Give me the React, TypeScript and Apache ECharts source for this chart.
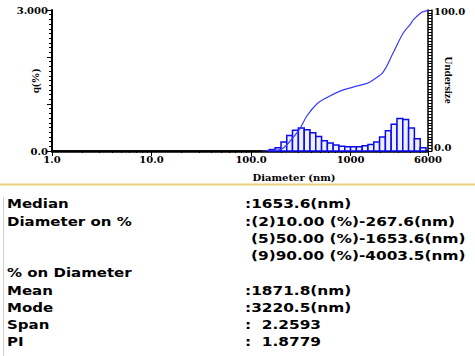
import React, { useEffect, useRef } from 'react';
import * as echarts from 'echarts';

// Histogram bins (log-spaced bin centres, nm) and q (%) values
const BIN_CENTERS_NM = [163, 187, 214, 244, 279, 320, 366, 418, 478, 547, 625, 715, 818, 935, 1070, 1223, 1399, 1600, 1830, 2093, 2393, 2737, 3131, 3581, 4095, 4683, 5356];
const Q_PERCENT = [0.03, 0.07, 0.19, 0.33, 0.44, 0.49, 0.45, 0.39, 0.31, 0.22, 0.17, 0.13, 0.10, 0.09, 0.09, 0.09, 0.11, 0.14, 0.19, 0.30, 0.43, 0.57, 0.69, 0.67, 0.49, 0.26, 0.07];

// Cumulative undersize curve
const CURVE_D_NM = [129, 174, 210, 268, 311, 365, 461, 580, 784, 1059, 1465, 1654, 2123, 2674, 3373, 4004, 4249, 5234, 5870, 6000];
const CURVE_UNDERSIZE = [0, 0.4, 2, 10, 16, 25, 33.5, 38, 42.5, 45.3, 48, 50, 56, 69.5, 83.5, 90, 92.8, 98.5, 99.6, 100];

// Axis ticks
const X_LABELS: Record<number, string> = { 1: '1.0', 10: '10.0', 100: '100.0', 1000: '1000', 6000: '6000' };
const X_MINOR_TICKS = [2, 3, 4, 5, 6, 7, 8, 9, 20, 30, 40, 50, 60, 70, 80, 90, 200, 300, 400, 500, 600, 700, 800, 900, 2000, 3000, 4000, 5000];
const Y_LEFT_LABELS: Record<number, string> = { 0: '0.0', 3: '3.000' };
const Y_RIGHT_TICKS = [0, 100];
const Y_RIGHT_LABELS = ['0.0', '100.0'];

// Result table
const TABLE_LABELS = ['Median', 'Diameter on %', '', '', '% on Diameter', 'Mean', 'Mode', 'Span', 'PI'];
const TABLE_VALUES = [':1653.6(nm)', ':(2)10.00 (%)-267.6(nm)', '(5)50.00 (%)-1653.6(nm)', '(9)90.00 (%)-4003.5(nm)', '', ':1871.8(nm)', ':3220.5(nm)', ':  2.2593', ':  1.8779'];

const SERIF = '"DejaVu Serif", serif';
const SANS = '"DejaVu Sans", sans-serif';

export default function App() {
  const ref = useRef<HTMLDivElement>(null);
  useEffect(() => {
    if (!ref.current) return;
    const chart = echarts.init(ref.current, undefined, { renderer: 'svg' });

    const bins = BIN_CENTERS_NM.map((c, i) => {
      const prev = i > 0 ? BIN_CENTERS_NM[i - 1] : (c * c) / BIN_CENTERS_NM[i + 1];
      const next = i < BIN_CENTERS_NM.length - 1 ? BIN_CENTERS_NM[i + 1] : (c * c) / BIN_CENTERS_NM[i - 1];
      return [c, Q_PERCENT[i], Math.sqrt(prev * c), Math.sqrt(c * next)];
    });

    const rowY0 = 204;
    const rowStep = 17.25;
    const tableText: any[] = [];
    TABLE_LABELS.forEach((t, i) => {
      if (t) tableText.push({ type: 'text', x: 7, y: rowY0 + i * rowStep, scaleX: 1.25, style: { text: t, font: `bold 12px ${SANS}`, fill: '#000', verticalAlign: 'middle' } });
    });
    TABLE_VALUES.forEach((t, i) => {
      if (t) tableText.push({ type: 'text', x: t.startsWith(':') ? 245 : 251, y: rowY0 + i * rowStep, scaleX: 1.28, style: { text: t, font: `bold 12px ${SANS}`, fill: '#000', verticalAlign: 'middle' } });
    });

    const axisFont = { color: '#000', fontFamily: SERIF, fontWeight: 'bold' as const, fontSize: 10 };

    const option: any = {
      animation: false,
      backgroundColor: '#fff',
      grid: { left: 52, right: 47, top: 10, bottom: 205 },
      xAxis: [
        {
          type: 'log', logBase: 10, min: 1, max: 6000, position: 'bottom',
          axisLine: { show: true, lineStyle: { color: '#000', width: 1.5 } },
          axisTick: { show: true, length: 5, lineStyle: { color: '#000' } },
          axisLabel: { ...axisFont, margin: 3, formatter: (v: number) => X_LABELS[Math.round(v)] ?? '' },
          splitLine: { show: false },
        },
        {
          type: 'log', logBase: 10, min: 1, max: 6000, position: 'bottom',
          axisLine: { show: false },
          axisTick: { show: true, length: 2, customValues: X_MINOR_TICKS, lineStyle: { color: '#000' } },
          axisLabel: { show: false },
          splitLine: { show: false },
        },
        {
          type: 'log', logBase: 10, min: 1, max: 6000, position: 'top',
          axisLine: { show: true, lineStyle: { color: '#000', width: 2.5 } },
          axisTick: { show: false }, axisLabel: { show: false }, splitLine: { show: false },
        },
      ],
      yAxis: [
        {
          type: 'value', min: 0, max: 3, interval: 1, position: 'left',
          axisLine: { show: true, lineStyle: { color: '#000', width: 2 } },
          axisTick: { show: true, length: 5, lineStyle: { color: '#000' } },
          minorTick: { show: true, splitNumber: 10, length: 3, lineStyle: { color: '#000' } },
          axisLabel: { ...axisFont, margin: 4, formatter: (v: number) => Y_LEFT_LABELS[v] ?? '' },
          splitLine: { show: false },
        },
        {
          type: 'value', min: 0, max: 100, interval: 2, position: 'right',
          axisLine: { show: true, lineStyle: { color: '#000', width: 1.5 } },
          axisTick: { show: true, length: 4, lineStyle: { color: '#000' } },
          axisLabel: { show: false },
          splitLine: { show: false },
        },
        {
          type: 'value', min: 0, max: 100, position: 'right', offset: 4,
          axisLine: { show: true, lineStyle: { color: '#000', width: 1.5 } },
          axisTick: { show: false }, axisLabel: { show: false }, splitLine: { show: false },
        },
      ],
      graphic: [
        { type: 'text', x: 294, y: 177, style: { text: 'Diameter (nm)', font: `bold 10px ${SERIF}`, fill: '#000', align: 'center', verticalAlign: 'middle' } },
        { type: 'text', x: 35, y: 81, rotation: Math.PI / 2, style: { text: 'q(%)', font: `bold 11px "Liberation Serif", serif`, fill: '#000', align: 'center', verticalAlign: 'middle' } },
        { type: 'text', x: 449, y: 80, rotation: -Math.PI / 2, style: { text: 'Undersize', font: `bold 11px "Liberation Serif", serif`, fill: '#000', align: 'center', verticalAlign: 'middle' } },
        { type: 'line', shape: { x1: 0, y1: 184.5, x2: 475, y2: 184.5 }, style: { stroke: '#e9d27c', lineWidth: 2 } },
        { type: 'line', shape: { x1: 3.5, y1: 197, x2: 3.5, y2: 356 }, style: { stroke: '#cfcfcf', lineWidth: 1 } },
        ...tableText,
      ],
      series: [
        {
          type: 'custom',
          xAxisIndex: 0, yAxisIndex: 0,
          data: bins,
          encode: { x: [0, 2, 3], y: 1 },
          renderItem: (params: any, api: any) => {
            const q = api.value(1);
            const lo = api.value(2);
            const hi = api.value(3);
            const p1 = api.coord([lo, q]);
            const p2 = api.coord([hi, 0]);
            return {
              type: 'rect',
              shape: { x: p1[0], y: p1[1], width: p2[0] - p1[0], height: p2[1] - p1[1] },
              style: { fill: '#eef0ff', stroke: '#0a0aee', lineWidth: 1.5 },
            };
          },
          z: 2,
        },
        {
          type: 'line',
          xAxisIndex: 0, yAxisIndex: 1,
          data: CURVE_D_NM.map((d, i) => [d, CURVE_UNDERSIZE[i]]),
          smooth: 0.35,
          showSymbol: false,
          lineStyle: { color: '#3a3aff', width: 1.2 },
          z: 3,
        },
      ],
    };
    chart.setOption(option);

    // Right-axis tick labels placed via the axis' own scale (nudged up off the x labels)
    const rightLabels = Y_RIGHT_TICKS.map((v, i) => {
      const p = chart.convertToPixel({ yAxisIndex: 1 }, v) as number;
      const right = chart.convertToPixel({ xAxisIndex: 0 }, 6000) as number;
      return {
        type: 'text', x: right + 6, y: v === 0 ? p - 4 : p + 1,
        style: { text: Y_RIGHT_LABELS[i], font: `bold 10px ${SERIF}`, fill: '#000', verticalAlign: 'middle' },
      };
    });
    chart.setOption({ graphic: [...option.graphic, ...rightLabels] }, { replaceMerge: ['graphic'] });

    return () => chart.dispose();
  }, []);
  return <div ref={ref} style={{ position: 'absolute', left: 0, top: 0, width: 475, height: 356 }} />;
}
